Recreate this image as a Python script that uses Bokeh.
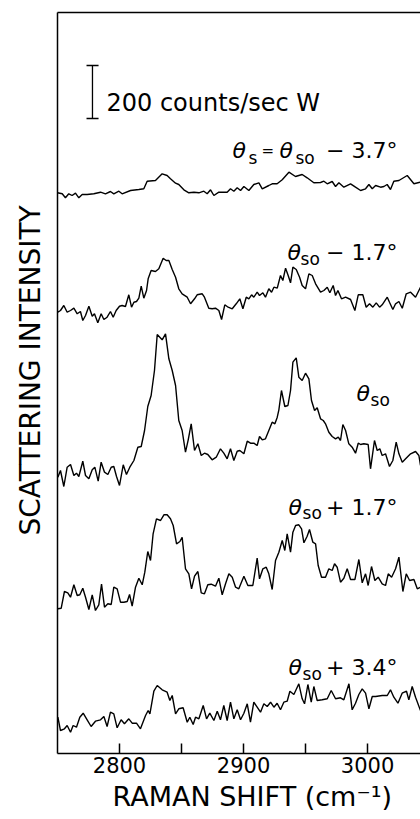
from bokeh.plotting import figure
from bokeh.models import Range1d, LinearAxis, FixedTicker, Label, Title
from bokeh.embed import file_html
from bokeh.resources import INLINE

# ---------------- data (Raman shift in cm^-1, intensity in arbitrary units, traces offset) ----
trace1_shift = [2750, 2753.8, 2756.4, 2759.1, 2761.8, 2764.5, 2767.2, 2769.9, 2773.9, 2779.3, 2784.7, 2788.7, 2792.7, 2795.4, 2799.5, 2802.1, 2808.9, 2815.6, 2819.6, 2822.3, 2829.0, 2834.4, 2838.4, 2841.1, 2845.2, 2847.8, 2851.9, 2855.9, 2860.0, 2864.0, 2868.0, 2870.7, 2873.4, 2876.1, 2880.1, 2886.8, 2889.5, 2892.2, 2894.9, 2897.6, 2900.3, 2904.3, 2908.3, 2912.4, 2915.1, 2920.4, 2923.1, 2927.1, 2931.2, 2936.6, 2941.9, 2947.3, 2951.3, 2956.7, 2962.1, 2964.8, 2967.5, 2971.5, 2974.2, 2976.9, 2980.9, 2986.3, 2990.3, 2994.4, 2998.4, 3001.1, 3003.8, 3006.5, 3010.5, 3013.2, 3015.8, 3018.5, 3021.2, 3025.3, 3032.0, 3037.4, 3042.7]
trace1_int = [560.7, 559.7, 555.7, 559.7, 558, 560.3, 555.7, 559, 559, 559.7, 561.3, 559.7, 562, 559.7, 562.3, 559.7, 563, 564, 564.7, 572.3, 573, 579.7, 578, 574.7, 570.3, 569, 563.7, 560.7, 561.3, 560.7, 562.3, 559.7, 563.7, 558, 561.3, 561.3, 564.7, 562.3, 565.7, 563, 567, 563, 569, 570.7, 564.7, 568, 569.7, 569.7, 573.7, 581.3, 577, 579, 575.7, 570.7, 571, 572.3, 569.7, 572, 567, 570.7, 566.3, 569.7, 566.3, 563, 564.7, 569, 564.7, 568, 566.3, 567, 569, 564, 572.3, 573, 578, 569.7, 571.3]

trace2_shift = [2750.3, 2752.4, 2755.1, 2757.8, 2760.5, 2763.2, 2765.9, 2768.5, 2770.4, 2772.6, 2775.3, 2778.0, 2779.8, 2782.5, 2785.2, 2787.4, 2790.0, 2792.7, 2794.9, 2797.3, 2800.0, 2802.1, 2804.8, 2807.5, 2809.7, 2811.6, 2813.7, 2815.6, 2817.5, 2819.6, 2821.8, 2823.1, 2825.5, 2829.0, 2831.7, 2835.2, 2837.6, 2839.8, 2842.5, 2845.2, 2847.8, 2850.5, 2854.6, 2857.3, 2860.5, 2862.6, 2866.7, 2868.5, 2872.0, 2874.7, 2877.4, 2880.1, 2882.3, 2884.9, 2887.6, 2890.9, 2894.1, 2897.0,
                2899.5, 2902.2, 2904.3, 2906.5, 2908.3, 2911.0, 2912.9, 2915.6, 2917.7, 2920.4, 2922.6, 2924.5, 2927.2, 2929.8, 2931.7, 2933.9, 2936.0, 2937.9, 2939.8, 2942.5, 2945.2, 2947.3, 2950.0, 2952.7, 2955.4, 2958.1, 2962.1, 2964.8, 2967.5, 2969.6, 2972.3, 2974.2, 2976.1, 2979.0, 2982.3, 2986.3, 2989.8, 2992.5, 2996.2, 2998.9, 3001.6, 3004.3, 3007.0, 3009.7, 3011.8, 3015.9, 3017.7, 3020.4, 3022.6, 3025.3, 3028.0, 3031.2, 3034.7, 3038.7, 3042.7]
trace2_int = [441.3, 443, 448, 441.3, 443, 445.3, 439.7, 442, 433, 438, 447.3, 437.3, 439.7, 430.7, 439.7, 434, 436.3, 442, 436.3, 443, 447.3, 448, 447, 458.7, 446.3, 451.3, 452, 455.3, 467.3, 455.3, 463, 474.7, 483, 482, 484.7, 495.3, 493, 493, 484, 476.3, 464.7, 459.7, 456.3, 449.7, 454.7, 458.7, 459.7, 456.3, 445.3, 444.7, 445.3, 443, 434, 448.7, 446.3, 444.7, 449.7, 454.7,
              444.7, 456.3, 454.7, 458.7, 456.3, 461.3, 458, 460.7, 456.3, 464.7, 461.3, 466.3, 465.3, 478, 473, 485.3, 478, 470.7, 486.3, 484, 476.3, 468, 464.7, 479.7, 478, 469.7, 461.3, 463, 466.3, 460.7, 468, 458, 463, 454.7, 456.3, 454, 443, 458.7, 458.7, 446.3, 449.7, 446.3, 450.7, 446.3, 448.7, 456.3, 451.3, 444, 449.7, 452, 445.3, 459.7, 461.3, 456.3, 466.3]

trace3_shift = [2750.3, 2752.4, 2755.1, 2757.8, 2760.5, 2763.2, 2765.3, 2767.2, 2770.4, 2772.6, 2775.3, 2778.0, 2780.1, 2782.8, 2785.2, 2787.9, 2790.6, 2793.3, 2795.4, 2797.6, 2800.0, 2803.0, 2805.6, 2808.3, 2811.6, 2814.8, 2817.5, 2820.2, 2822.8, 2825.5, 2828.2, 2830.4, 2834.4, 2837.1, 2839.8, 2842.5, 2845.2, 2847.8, 2850.5, 2853.2, 2855.4, 2857.8, 2860.5, 2863.2, 2865.9, 2868.5, 2871.2, 2874.7, 2878.0, 2881.4, 2884.1, 2886.8, 2889.5, 2892.2, 2894.9, 2897.0,
                2900.3, 2903.0, 2905.6, 2908.3, 2911.0, 2912.9, 2915.1, 2917.7, 2920.4, 2923.1, 2925.3, 2927.2, 2928.5, 2930.6, 2933.3, 2935.8, 2937.9, 2939.8, 2942.5, 2944.6, 2947.3, 2950.0, 2952.7, 2954.8, 2957.3, 2959.4, 2962.1, 2964.3, 2966.1, 2968.8, 2971.5, 2974.2, 2976.4, 2978.2, 2980.1, 2982.3, 2984.9, 2987.6, 2990.3, 2992.5, 2994.4, 2997.0, 3000.5, 3002.4, 3005.6, 3007.8, 3009.9, 3011.8, 3014.5, 3017.7, 3020.4, 3023.1, 3025.3, 3028.0, 3030.7, 3034.7, 3038.7, 3041.4, 3042.7]
trace3_int = [276.3, 283, 267, 286.3, 289, 278, 280.3, 277, 292.3, 278, 274.7, 283.7, 286.3, 272.3, 291.3, 281.3, 279, 286.3, 287, 277, 268, 288.7, 279, 286.3, 293, 306.3, 307, 323, 347, 358, 383, 419, 413.7, 419.7, 394.7, 383, 368, 333, 323, 301.3, 313.7, 329.7, 303, 309.7, 298, 300.3, 299, 293.7, 296.3, 304.7, 300.3, 294.7, 304.7, 293, 302.3, 303,
              299.7, 312.3, 310.3, 310.3, 308, 317, 313.7, 314.7, 323, 331.3, 329.7, 336.3, 343.7, 363, 347, 348, 363, 391.3, 395.7, 376.3, 373, 380.3, 374.7, 353, 343, 345.7, 334.7, 333, 329.7, 321.3, 317, 314.7, 316.3, 313, 329, 323, 309.7, 306.3, 300.3, 310.3, 309, 309.7, 309, 284.7, 313, 303, 304.7, 298, 299.7, 287, 293, 311.3, 299.7, 291.3, 294.7, 299.7, 302, 298, 288]

trace4_shift = [2750.3, 2753.0, 2755.6, 2758.3, 2760.5, 2763.2, 2765.9, 2768.0, 2770.4, 2772.6, 2775.3, 2778.0, 2780.6, 2783.3, 2785.5, 2787.9, 2790.6, 2793.3, 2795.4, 2798.1, 2800.8, 2803.5, 2806.2, 2808.1, 2810.2, 2812.9, 2815.6, 2818.3, 2820.4, 2822.8, 2825.0, 2827.1, 2829.8, 2833.1, 2835.8, 2838.4, 2841.1, 2843.3, 2846.0, 2848.7, 2850.5, 2853.2, 2855.9, 2858.1, 2860.5, 2863.2, 2865.9, 2868.5, 2871.2, 2873.9, 2877.4, 2880.1, 2882.8, 2885.5, 2888.2, 2890.9, 2893.6, 2896.2,
                2900.3, 2903.5, 2907.5, 2911.0, 2912.9, 2915.6, 2918.3, 2920.4, 2923.1, 2925.8, 2928.5, 2931.2, 2933.3, 2935.2, 2937.9, 2939.8, 2942.0, 2944.6, 2946.8, 2948.7, 2951.3, 2953.2, 2955.9, 2958.1, 2960.2, 2962.9, 2966.1, 2968.8, 2971.5, 2973.4, 2975.5, 2978.2, 2980.9, 2983.6, 2986.3, 2989.8, 2993.0, 2995.7, 2998.4, 3000.5, 3003.2, 3005.9, 3008.6, 3011.8, 3014.5, 3016.7, 3019.4, 3022.6, 3025.3, 3028.5, 3031.2, 3033.9, 3037.4, 3040.1, 3042.7]
trace4_int = [144.7, 145.3, 162, 160.7, 156.3, 168.7, 158, 158.7, 165.3, 156.3, 144, 158.7, 143, 148.7, 169.3, 146.3, 149.7, 149, 166.3, 164.7, 151.3, 151.3, 152, 159, 147.3, 166.3, 175.3, 168.7, 181.3, 202, 193, 219.7, 234.7, 233, 238.7, 238.7, 234.7, 228, 209.7, 212, 216.3, 184.7, 179.7, 164.7, 177.3, 182, 160.7, 159.7, 168.7, 169.3, 167.3, 175.3, 158.7, 169.7, 179.7, 176.3, 166.3, 164.7,
              177.3, 168, 168, 195.3, 174.7, 184.7, 186.3, 179.7, 164, 193, 201.3, 213, 203, 219.7, 201.3, 221.3, 228, 228.7, 224.7, 210.7, 217.3, 224, 211.3, 209.7, 188, 176.3, 176.3, 184.7, 183, 189.7, 186.3, 171.3, 175.3, 184.7, 174, 174, 194, 170.7, 179.7, 168, 187, 173, 176.3, 169.7, 168, 179.7, 176.3, 184.7, 196.3, 162, 179.7, 173, 174, 164.7, 166.3]

trace5_shift = [2750.3, 2752.4, 2755.6, 2757.8, 2760.5, 2762.6, 2765.3, 2768.0, 2770.7, 2773.9,
                2777.1, 2780.6, 2784.7, 2787.4, 2790.0, 2792.7, 2795.4, 2798.1, 2801.3, 2804.0,
                2807.5, 2810.2, 2813.7, 2816.9, 2821.0, 2823.1, 2824.5, 2827.7, 2830.4, 2834.4,
                2838.4, 2840.6, 2842.5, 2845.2, 2847.8, 2851.3, 2854.6, 2856.7, 2859.4, 2861.3,
                2864.0, 2867.5, 2870.2, 2872.8, 2876.1, 2878.8, 2881.4, 2884.1, 2886.8, 2889.5,
                2892.2, 2894.9, 2897.6, 2900.3, 2903.0, 2905.6, 2908.3, 2911.0, 2913.7, 2916.4,
                2919.1, 2921.8, 2924.5, 2927.1, 2929.8, 2932.5, 2935.2, 2937.4, 2940.6, 2944.6,
                2947.3, 2949.2, 2951.9, 2954.6, 2956.7, 2959.4, 2963.4, 2967.5, 2970.7, 2974.2,
                2978.2, 2980.9, 2985.0, 2987.6, 2990.3, 2993.0, 2995.7, 2998.4, 3001.1, 3003.8,
                3006.5, 3011.8, 3015.9, 3018.5, 3021.2, 3024.5, 3027.9, 3031.4, 3033.3, 3036.0,
                3038.7, 3042.7]
trace5_int = [36.3, 23, 24.7, 28, 21.3, 28, 26.3, 36.3, 40.3, 33.7,
              27, 32.3, 33.7, 37, 27, 41.3, 39.7, 25.7, 33.7, 29.7,
              34.7, 30.3, 30.3, 24.7, 38, 43, 39.7, 62.3, 68, 63.7,
              61.3, 53, 58, 39.7, 44.7, 45.7, 31.3, 36.3, 29, 36.3,
              34.7, 48, 34.7, 40.3, 33, 42.3, 33.7, 48, 33, 51.3,
              34.7, 43.7, 33.7, 40.3, 49.7, 31.3, 51.3, 46.3, 41.3, 49.7,
              47, 51.3, 46.3, 50.3, 43.7, 51.3, 52.3, 62.3, 59, 69.7,
              54.7, 49.7, 69, 51.3, 67, 53, 53.7, 54.7, 63, 54.7,
              55.7, 53.7, 69.7, 43.7, 50.3, 59, 64.7, 60.3, 44.7, 57,
              57, 58, 58, 63.7, 56.3, 50.3, 60.3, 62.3, 53.7, 67,
              56.3, 43]

tick_values = [2800, 2850, 2900, 2950, 3000]
tick_labels = {2800: "2800", 2850: "", 2900: "2900", 2950: "", 3000: "3000"}

# scale bar: 200 counts/sec in intensity units
scale_bar_label = "200 counts/sec W"
scale_bar_bottom = 635
scale_bar_top = 688

x_title = "RAMAN SHIFT (cm⁻¹)"
y_title = "SCATTERING INTENSITY"

FONT = "DejaVu Sans"

# ---------------- figure ----------------
p = figure(width=420, height=819, output_backend="svg", toolbar_location=None,
           x_range=Range1d(2750, 3042.7), y_range=Range1d(0, 741),
           x_axis_type=None, y_axis_type=None,
           min_border_left=57, min_border_right=0, min_border_top=12, min_border_bottom=66)
p.outline_line_color = None
p.background_fill_color = "white"
p.border_fill_color = "white"

# bottom axis with inward ticks
xa = LinearAxis(ticker=FixedTicker(ticks=tick_values), major_label_overrides=tick_labels)
xa.major_tick_in = 10
xa.major_tick_out = 0
xa.minor_tick_line_color = None
xa.axis_line_width = 1.5
xa.major_tick_line_width = 1.5
xa.axis_line_color = "black"
xa.major_tick_line_color = "black"
xa.major_label_text_font = FONT
xa.major_label_text_font_size = "21px"
xa.major_label_text_color = "black"
xa.major_label_standoff = 3
p.add_layout(xa, "below")

for side in ("left", "above"):
    ax = LinearAxis(ticker=FixedTicker(ticks=[]))
    ax.major_tick_in = 0
    ax.major_tick_out = 0
    ax.minor_tick_line_color = None
    ax.major_label_text_font_size = "0px"
    ax.major_label_standoff = 0
    ax.axis_line_width = 1.5
    ax.axis_line_color = "black"
    p.add_layout(ax, side)

# axis titles as side titles
p.add_layout(Title(text=x_title, align="left", offset=55, standoff=7,
                   text_font=FONT, text_font_size="27px", text_font_style="normal",
                   text_color="black"), "below")
p.add_layout(Title(text=y_title, align="left", offset=218, standoff=22,
                   text_font=FONT, text_font_size="28px", text_font_style="normal",
                   text_color="black"), "left")

# spectra
for xs, ys in [(trace1_shift, trace1_int), (trace2_shift, trace2_int), (trace3_shift, trace3_int),
               (trace4_shift, trace4_int), (trace5_shift, trace5_int)]:
    p.line(xs, ys, line_color="black", line_width=1.4)

# scale bar
p.segment(x0=[2778.2, 2773.4, 2773.4], y0=[scale_bar_bottom, scale_bar_bottom, scale_bar_top],
          x1=[2778.2, 2783.1, 2783.1], y1=[scale_bar_top, scale_bar_bottom, scale_bar_top],
          line_color="black", line_width=1.3)
p.add_layout(Label(x=2789.5, y=651, text=scale_bar_label, text_font=FONT, text_font_size="24px",
                   text_color="black", text_baseline="alphabetic", text_align="left"))


def piece(text, x, y, size, style="normal"):
    p.add_layout(Label(x=x, y=y, text=text, text_font=FONT, text_font_size=f"{size}px",
                       text_font_style=style, text_color="black",
                       text_baseline="alphabetic", text_align="left"))


# θs = θso − 3.7°
piece("θ", 2891.1, 603, 22, "italic")
piece("s", 2904.0, 596, 17)
piece("=", 2914.5, 603, 15)
piece("θ", 2929.0, 603, 22, "italic")
piece("so", 2941.9, 596, 17)
piece("− 3.7°", 2966.5, 603, 22)
# θso − 1.7°
piece("θ", 2935.5, 501, 22, "italic")
piece("so", 2946.0, 495, 17)
piece("− 1.7°", 2966.5, 501, 22)
# θso
piece("θ", 2991.1, 360, 22, "italic")
piece("so", 3002.4, 354, 17)
# θso + 1.7°
piece("θ", 2936.3, 246, 22, "italic")
piece("so", 2947.6, 241, 17)
piece("+ 1.7°", 2966.5, 246, 22)
# θso + 3.4°
piece("θ", 2936.3, 86, 22, "italic")
piece("so", 2947.6, 80, 17)
piece("+ 3.4°", 2966.5, 86, 22)

open("out.html", "w").write(file_html(p, INLINE))
